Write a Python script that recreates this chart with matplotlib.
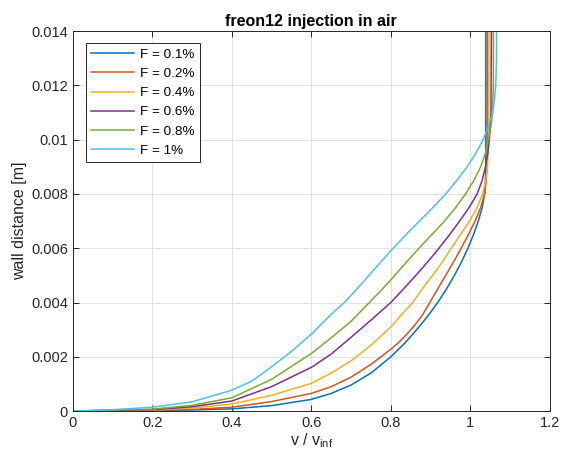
import matplotlib
matplotlib.use("Agg")
import matplotlib.pyplot as plt

# series: wall distance [m] vs v / v_inf
labels = ["F = 0.1%", "F = 0.2%", "F = 0.4%", "F = 0.6%", "F = 0.8%", "F = 1%"]
colors = ["#0072BD", "#D95319", "#EDB120", "#7E2F8E", "#77AC30", "#4DBEEE"]

v_01 = [0, 0.2, 0.3, 0.4, 0.5, 0.6, 0.65, 0.7, 0.75, 0.8, 0.835, 0.865, 0.893, 0.918, 0.94, 0.96,
        0.978, 0.994, 1.008, 1.02, 1.03, 1.036, 1.038, 1.039, 1.039]
y_01 = [0, 0.00002, 0.00004, 0.00008, 0.0002, 0.00043, 0.00065, 0.00096, 0.0014, 0.002, 0.0025, 0.003,
        0.0035, 0.004, 0.0045, 0.005, 0.0055, 0.006, 0.0065, 0.007, 0.0075, 0.008, 0.0085, 0.009, 0.014]

v_02 = [0, 0.2, 0.3, 0.4, 0.5, 0.6, 0.65, 0.7, 0.75, 0.8, 0.82, 0.84, 0.86, 0.88, 0.898, 0.918, 0.938,
        0.958, 0.977, 0.995, 1.012, 1.026, 1.036, 1.04, 1.042, 1.043, 1.043]
y_02 = [0, 0.00003, 0.00006, 0.00014, 0.00035, 0.00065, 0.0009, 0.00125, 0.00172, 0.00228, 0.00253,
        0.00283, 0.00316, 0.00355, 0.004, 0.0045, 0.005, 0.0055, 0.006, 0.0065, 0.007, 0.0075, 0.008,
        0.0085, 0.009, 0.010, 0.014]

v_04 = [0, 0.2, 0.3, 0.4, 0.5, 0.6, 0.65, 0.7, 0.75, 0.8, 0.83, 0.855, 0.879, 0.905, 0.93, 0.952,
        0.975, 0.998, 1.017, 1.031, 1.039, 1.043, 1.045, 1.046, 1.047]
y_04 = [0, 0.00004, 0.00011, 0.00026, 0.00058, 0.00102, 0.0014, 0.00185, 0.00242, 0.0031, 0.0036, 0.004,
        0.0045, 0.005, 0.0055, 0.006, 0.0065, 0.007, 0.0075, 0.008, 0.0085, 0.009, 0.0095, 0.010, 0.014]

v_06 = [0, 0.2, 0.3, 0.4, 0.5, 0.6, 0.65, 0.7, 0.75, 0.8, 0.832, 0.863, 0.893, 0.921, 0.948, 0.973,
        0.997, 1.017, 1.03, 1.038, 1.044, 1.048, 1.052, 1.053]
y_06 = [0, 0.00005, 0.00016, 0.00037, 0.0009, 0.00161, 0.0021, 0.00272, 0.00335, 0.004, 0.0045, 0.005,
        0.0055, 0.006, 0.0065, 0.007, 0.0075, 0.008, 0.0085, 0.009, 0.0095, 0.010, 0.011, 0.014]

v_08 = [0, 0.2, 0.3, 0.4, 0.5, 0.6, 0.65, 0.7, 0.746, 0.779, 0.81, 0.84, 0.871, 0.903, 0.935, 0.963,
        0.988, 1.009, 1.026, 1.038, 1.046, 1.052, 1.056, 1.058, 1.058]
y_08 = [0, 0.00007, 0.00021, 0.00049, 0.00117, 0.00212, 0.0027, 0.00331, 0.004, 0.0045, 0.005, 0.0055,
        0.006, 0.0065, 0.007, 0.0075, 0.008, 0.0085, 0.009, 0.0095, 0.010, 0.0105, 0.011, 0.012, 0.014]

v_10 = [0, 0.1, 0.2, 0.3, 0.4, 0.45, 0.5, 0.55, 0.605, 0.645, 0.683, 0.715, 0.745, 0.775, 0.806, 0.838,
        0.872, 0.906, 0.938, 0.966, 0.992, 1.014, 1.032, 1.046, 1.056, 1.061, 1.064, 1.066, 1.066]
y_10 = [0, 0.00005, 0.00014, 0.00034, 0.00077, 0.0011, 0.00163, 0.0022, 0.0029, 0.0035, 0.004, 0.0045,
        0.005, 0.0055, 0.006, 0.0065, 0.007, 0.0075, 0.008, 0.0085, 0.009, 0.0095, 0.010, 0.0105, 0.011,
        0.0115, 0.012, 0.013, 0.014]

series = [(v_01, y_01), (v_02, y_02), (v_04, y_04), (v_06, y_06), (v_08, y_08), (v_10, y_10)]

plt.rcParams['font.family'] = ['Liberation Sans', 'DejaVu Sans']
dark = "#262626"

fig = plt.figure(figsize=(5.61, 4.65), dpi=100)
ax = fig.add_axes([0.130, 0.116, 0.850, 0.817])

for (v, y), c, lab in zip(series, colors, labels):
    ax.plot(v, y, color=c, lw=1.1, label=lab)

ax.set_xlim(0, 1.2)
ax.set_ylim(0, 0.014)
ax.set_xticks([0, 0.2, 0.4, 0.6, 0.8, 1.0, 1.2])
ax.set_xticklabels(["0", "0.2", "0.4", "0.6", "0.8", "1", "1.2"])
ax.set_yticks([0, 0.002, 0.004, 0.006, 0.008, 0.01, 0.012, 0.014])
ax.set_yticklabels(["0", "0.002", "0.004", "0.006", "0.008", "0.01", "0.012", "0.014"])

ax.grid(True, color="#dcdcdc", lw=0.6)
ax.set_axisbelow(True)
for s in ax.spines.values():
    s.set_color(dark)
    s.set_linewidth(0.7)
ax.tick_params(direction="in", length=4, width=0.7, color=dark, labelcolor=dark,
               labelsize=10.5, top=True, right=True)

ax.set_title("freon12 injection in air", fontsize=11.5, fontweight="bold", color="black", pad=4)
ax.set_xlabel("v / v$_{\\mathregular{inf}}$", fontsize=11.5, color=dark, labelpad=1)
ax.set_ylabel("wall distance [m]", fontsize=11.5, color=dark, labelpad=3)

leg = ax.legend(loc="upper left", bbox_to_anchor=(13 / 477, 1 - 12 / 380), borderaxespad=0,
                fontsize=9.7, handlelength=3.2, labelspacing=0.5, handletextpad=0.4,
                fancybox=False, framealpha=1, borderpad=0.4)
leg.get_frame().set_edgecolor(dark)
leg.get_frame().set_linewidth(0.7)

fig.savefig("out.png", dpi=100)
